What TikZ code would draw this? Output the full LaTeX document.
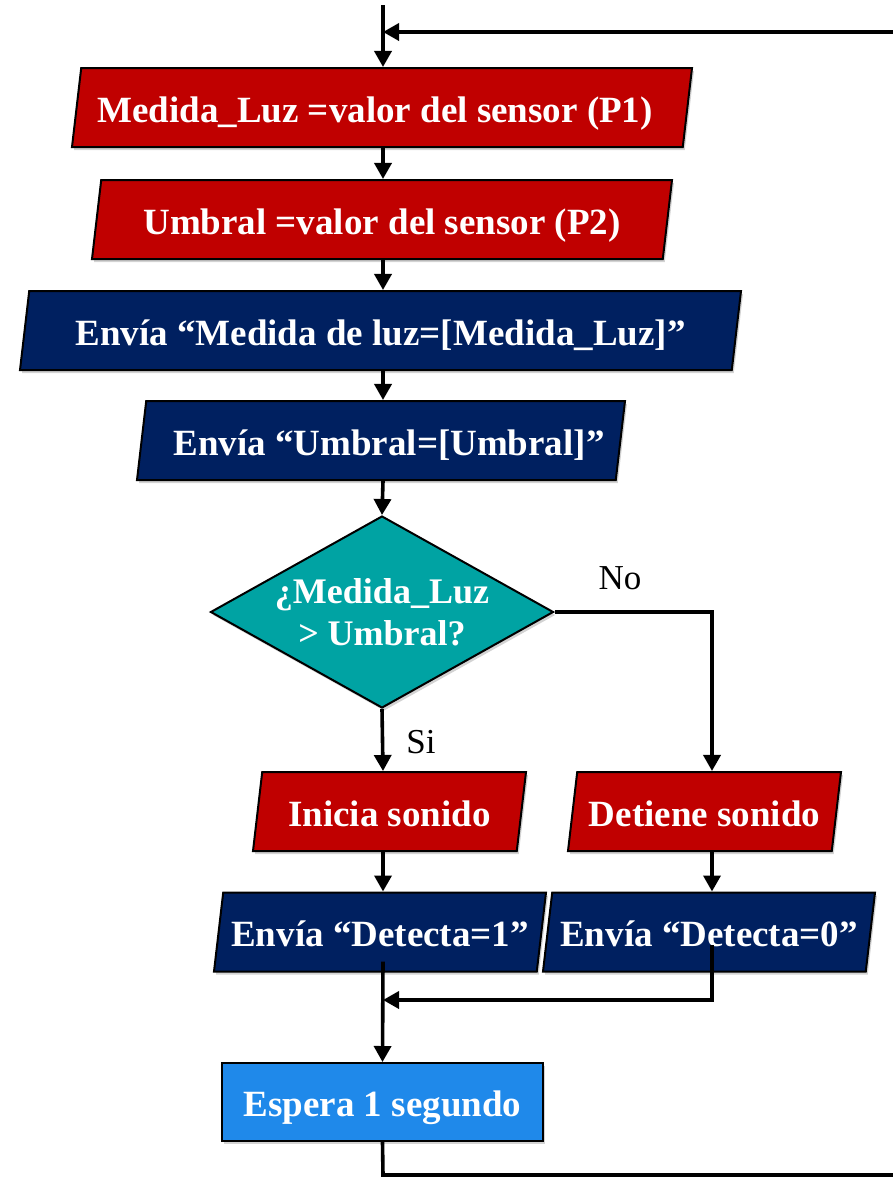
\documentclass[tikz,border=0pt]{standalone}
\usepackage{fontspec}
\setmainfont{Liberation Serif}
\usetikzlibrary{shapes.geometric,arrows.meta,calc,shadows}

\definecolor{rojoCaja}{RGB}{192,0,0}
\definecolor{azulOscuro}{RGB}{0,32,96}
\definecolor{turquesa}{RGB}{0,163,163}
\definecolor{azulClaro}{RGB}{31,137,234}

\tikzset{every picture/.style={line width=0.75pt}}
\tikzset{
  sombra/.style={drop shadow={shadow xshift=2pt,shadow yshift=-3pt,opacity=0.35}},
  caja/.style={draw=black,line width=2pt,text=white,inner sep=0pt,
    font=\fontsize{37}{40}\selectfont\bfseries,text height=33pt,text depth=4pt,sombra},
  datos/.style={caja,trapezium,trapezium left angle=76,trapezium right angle=104,
    trapezium stretches body,minimum height=79pt},
  decide/.style={caja,diamond,aspect=1.786,align=center,minimum width=343pt,minimum height=192pt,
    text height=,text depth=,font=\fontsize{36}{42}\selectfont\bfseries},
  proceso/.style={caja,rectangle,minimum width=321pt,minimum height=78pt},
  flecha/.style={line width=3.6pt,-{Triangle[length=16pt,width=17pt]}},
  etiqueta/.style={font=\fontsize{35}{38}\selectfont,inner sep=0pt}
}

\begin{document}
\begin{tikzpicture}[x=1pt,y=1pt,yscale=-1,xscale=1]
\useasboundingbox (0,0) rectangle (893,1178);

\coordinate (eje) at (383,0);
\coordinate (derecha) at (712,0);
\coordinate (inicio) at (383,5);

%Shape: Parallelogram
\node[datos,fill=rojoCaja,minimum width=620pt] (luz) at (382,107.5) {Medida\_Luz =valor del sensor (P1)\hspace*{14pt}};
%Shape: Parallelogram
\node[datos,fill=rojoCaja,minimum width=580pt] (umbral) at (382,219.5) {Umbral =valor del sensor (P2)};
%Shape: Parallelogram
\node[datos,fill=azulOscuro,minimum width=721pt] (envluz) at (380.5,330.5) {Envía “Medida de luz=[Medida\_Luz]”};
%Shape: Parallelogram
\node[datos,fill=azulOscuro,minimum width=488pt] (envumb) at (381,440.5) {\hspace*{16pt}Envía “Umbral=[Umbral]”};
%Shape: Diamond
\node[decide,fill=turquesa] (decision) at (382,612) {¿Medida\_Luz\\> Umbral?};
%Shape: Parallelogram
\node[datos,fill=rojoCaja,minimum width=273pt] (inicia) at (389.5,811.5) {Inicia sonido};
%Shape: Parallelogram
\node[datos,fill=rojoCaja,minimum width=273pt] (detiene) at (704.5,811.5) {Detiene sonido};
%Shape: Parallelogram
\node[datos,fill=azulOscuro,minimum width=332pt] (det1) at (380,932) {Envía “Detecta=1”};
%Shape: Parallelogram
\node[datos,fill=azulOscuro,minimum width=332pt] (det0) at (709,932) {Envía “Detecta=0”};
%Shape: Rectangle
\node[proceso,fill=azulClaro] (espera) at (382.5,1102) {Espera 1 segundo};

% Text Node
\node[etiqueta] (no) at (620,578) {No};
% Text Node
\node[etiqueta] (si) at (421,742) {Si};

%Straight Lines
\draw[flecha] (inicio) -- (luz.north -| eje);
\draw[flecha] (luz.south -| eje) -- (umbral.north -| eje);
\draw[flecha] (umbral.south -| eje) -- (envluz.north -| eje);
\draw[flecha] (envluz.south -| eje) -- (envumb.north -| eje);
\draw[flecha] (envumb.south -| eje) -- (decision.north);
\draw[flecha] (decision.south) -- (inicia.north -| eje);
\draw[flecha] (decision.east) -- (decision.east -| derecha) -- (detiene.north -| derecha);
\draw[flecha] (inicia.south -| eje) -- (det1.north -| eje);
\draw[flecha] (detiene.south -| derecha) -- (det0.north -| derecha);
\draw[flecha] ($(det1.south -| eje)+(0,-11)$) -- (espera.north);
\draw[flecha] ($(det0.center -| derecha)+(0,13)$) -- (derecha |- 0,1000) -- (eje |- 0,1000);
%Loop back
\draw[flecha] (espera.south) -- (eje |- 0,1175) -- (895,1175) -- (895,32) -- (eje |- 0,32);

\end{tikzpicture}
\end{document}
